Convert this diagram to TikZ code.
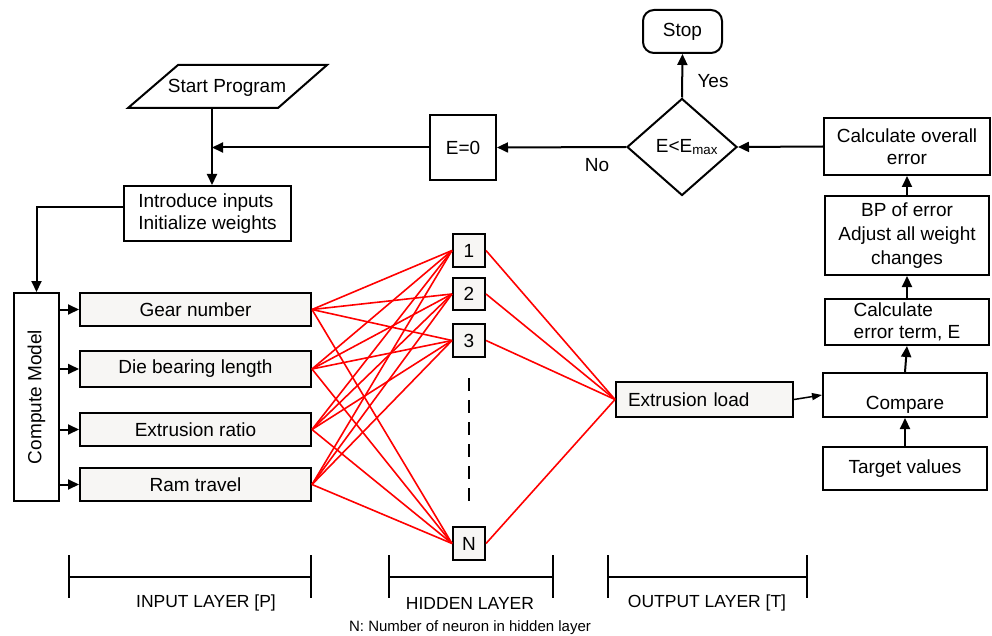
\documentclass[tikz,border=0pt]{standalone}
\usepackage{fontspec}
\setmainfont{Liberation Sans}
\usetikzlibrary{arrows.meta,shapes.geometric,calc}
\definecolor{boxgray}{HTML}{F7F6F4}
\newcommand\mainfs{\fontsize{19}{22}\selectfont}
\newcommand\labfs{\fontsize{17.5}{20}\selectfont}
\newcommand\notefs{\fontsize{15}{18}\selectfont}
\tikzset{
  box/.style={draw, line width=2pt, inner sep=0pt, align=center, font=\mainfs, fill=white},
  ibox/.style={box, fill=boxgray},
  arr/.style={line width=2pt, -{Triangle[length=11pt,width=10pt]}},
  thinarr/.style={line width=1.5pt, -{Triangle[length=10pt,width=7pt]}},
  redline/.style={draw=red, line width=1.6pt},
  brk/.style={line width=1.8pt},
}
\begin{document}
\begin{tikzpicture}[x=1pt,y=-1pt]
\useasboundingbox (0,0) rectangle (992,636);

% ---------- flowchart top ----------
\draw[line width=2pt] (128,108) -- (178,65) -- (327,65) -- (278,108) -- cycle;
\node[font=\mainfs] (start) at (227,88) {Start Program};
\coordinate (sb) at (212,108);

\node[box, minimum width=167, minimum height=55, align=left] (intro) at (207.5,213.5) {Introduce inputs\\Initialize weights};
\node[box, minimum width=66, minimum height=65] (e0) at (463,147.5) {E=0};
\node[draw, line width=2pt, diamond, inner sep=0pt, minimum width=110, minimum height=97, font=\mainfs] (dia) at (682,147) {\hspace*{10pt}E<E\textsubscript{max}};
\node[box, rounded corners=11pt, minimum width=79, minimum height=43] (stop) at (682.5,31.5) {Stop};
\node[box, minimum width=166, minimum height=57] (calcall) at (907,146.5) {Calculate overall\\error};
\node[box, minimum width=164, minimum height=79, font=\fontsize{19}{24}\selectfont] (bp) at (907,235.5) {BP of error\\Adjust all weight\\changes};
\node[box, minimum width=164, minimum height=46, align=left] (calcerr) at (907,322) {Calculate\\error term, E};
\node[box, minimum width=164, minimum height=44] (compare) at (905,395) {};
\node[font=\mainfs] at (905,405) {Compare};
\node[box, minimum width=164, minimum height=43] (target) at (905,468.5) {Target values};
\node[ibox, minimum width=177, minimum height=35, inner xsep=12pt, text width=153pt, align=left] (extload) at (704.5,399.5) {Extrusion load};

\node[font=\mainfs] at (713,81) {Yes};
\node[font=\mainfs] at (597,165) {No};

\draw[arr] (sb) -- (sb |- intro.north);
\draw[arr] (e0.west) -- (e0.west -| sb);
\draw[arr] (dia.west) -- (e0.east);
\draw[arr] (dia.north) -- (stop.south);
\draw[arr] (calcall.west) -- (dia.east);
\draw[arr] (bp.north) -- (calcall.south);
\draw[arr] (calcerr.north) -- (bp.south);
\draw[arr] (compare.north) -- (calcerr.south);
\draw[arr] (target.north) -- (compare.south);
\draw[thinarr] (extload.east) -- (compare.west);

% ---------- compute model and inputs ----------
\node[box, minimum width=45, minimum height=208] (compute) at (36.5,397) {};
\node[rotate=90, font=\mainfs] at (compute) {Compute Model};
\draw[arr] ($(intro.west)+(0,-6)$) -| (compute.north);

\node[ibox, minimum width=231, minimum height=33] (gear) at (195.5,309.5) {Gear number};
\node[ibox, minimum width=231, minimum height=36] (die) at (195.5,369) {Die bearing length};
\node[ibox, minimum width=231, minimum height=33] (ratio) at (195.5,429.5) {Extrusion ratio};
\node[ibox, minimum width=231, minimum height=33] (ram) at (195.5,484.5) {Ram travel};

\foreach \n in {gear,die,ratio,ram}
  \draw[arr] (compute.east |- \n.west) -- (\n.west);

% ---------- hidden layer ----------
\node[ibox, minimum width=32, minimum height=33] (h1) at (469,250.5) {1};
\node[ibox, minimum width=32, minimum height=32] (h2) at (469,294) {2};
\node[ibox, minimum width=32, minimum height=33] (h3) at (469,340.5) {3};
\node[ibox, minimum width=32, minimum height=33] (hN) at (469,543.5) {N};
\draw[line width=2.5pt, dash pattern=on 13pt off 9pt] (h3.south) ++(0,20) coordinate (d1) -- (d1 |- 0,503) coordinate (d2);

\foreach \i in {gear,die,ratio,ram}
  \foreach \h in {h1,h2,h3,hN}
    \draw[redline] (\i.east) -- (\h.west);
\foreach \h in {h1,h2,h3,hN}
  \draw[redline] (\h.east) -- (extload.west);

% ---------- layer brackets ----------
\draw[brk] (69,555) -- (69,598) (69,577) -- (311,577) (311,555) -- (311,598);
\draw[brk] (389,555) -- (389,598) (389,577) -- (553,577) (553,555) -- (553,598);
\draw[brk] (608,555) -- (608,598) (608,577) -- (807,577) (807,555) -- (807,598);
\node[font=\labfs] at (206,603) {INPUT LAYER [P]};
\node[font=\labfs] at (470,603) {HIDDEN LAYER};
\node[font=\labfs] at (707,603) {OUTPUT LAYER [T]};
\node[font=\notefs] at (470,628) {N: Number of neuron in hidden layer};
\end{tikzpicture}
\end{document}
